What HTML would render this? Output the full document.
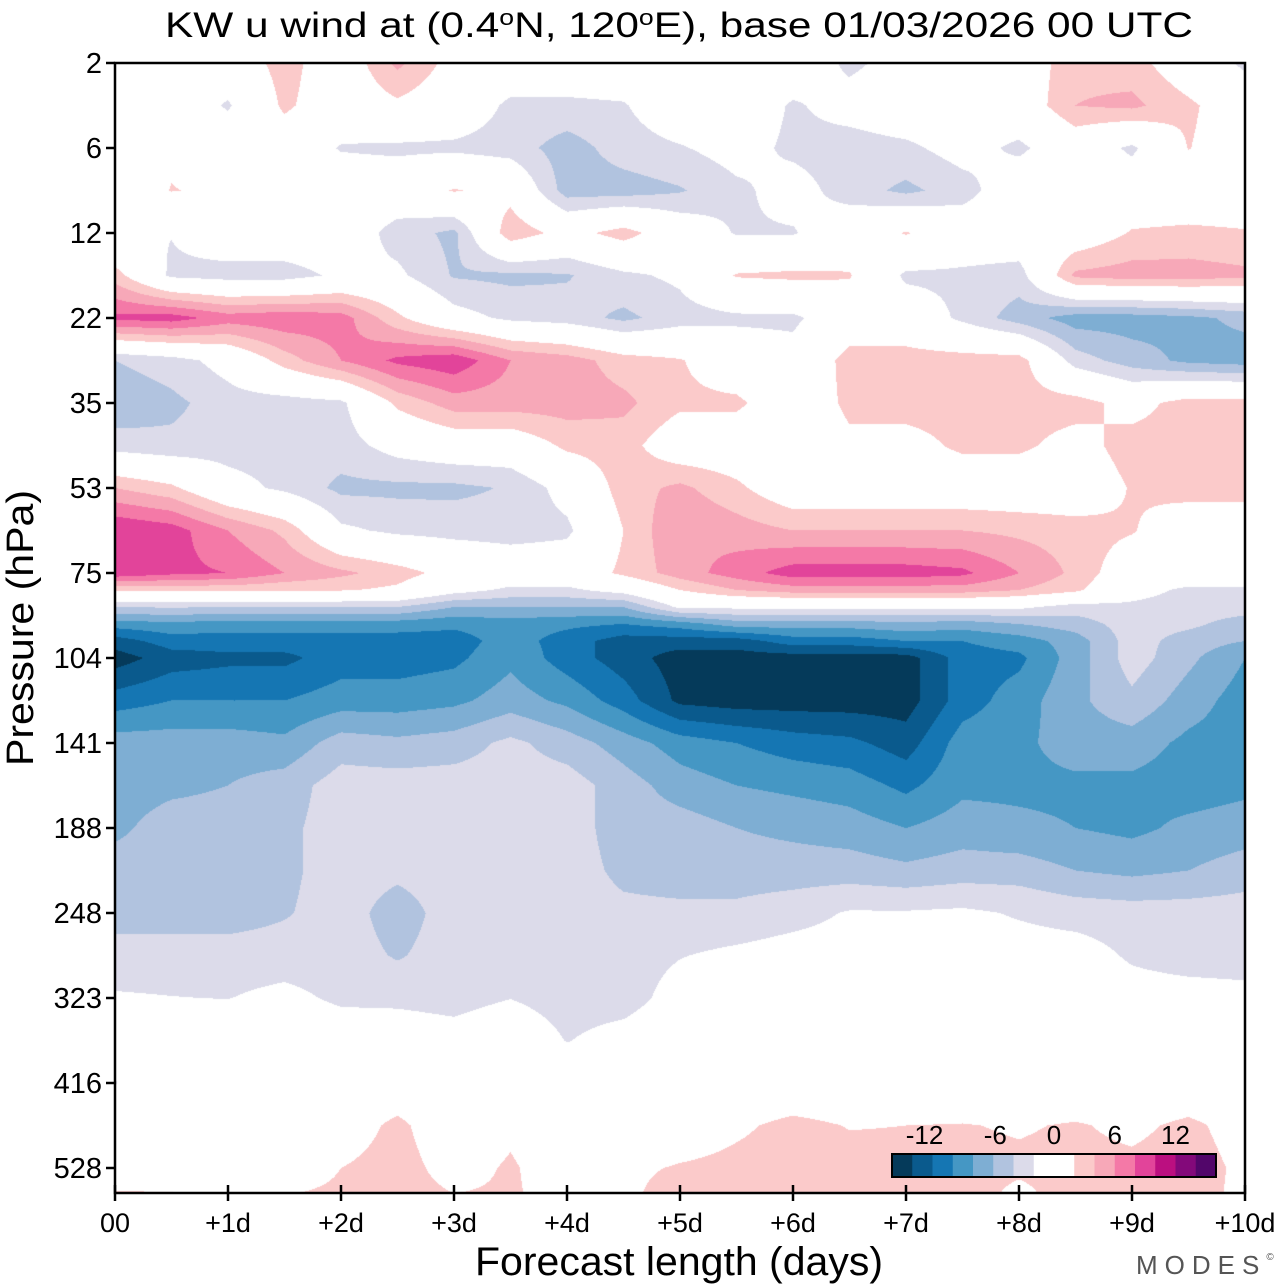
<!DOCTYPE html>
<html><head><meta charset="utf-8">
<style>
html,body{margin:0;padding:0;background:#fff;}
#wrap{position:relative;width:1280px;height:1286px;overflow:hidden;font-family:"Liberation Sans",sans-serif;}
#field{position:absolute;left:115px;top:63px;}
svg{position:absolute;left:0;top:0;font-family:"Liberation Sans",sans-serif;}
</style></head>
<body>
<div id="wrap">
<canvas id="field" width="1130" height="1130"></canvas>
<svg id="ov" width="1280" height="1286">
  <text x="679" y="37" font-size="35" text-anchor="middle" textLength="1028" lengthAdjust="spacingAndGlyphs">KW u wind at (0.4<tspan dy="-12" font-size="22">o</tspan><tspan dy="12">N, 120</tspan><tspan dy="-12" font-size="22">o</tspan><tspan dy="12">E),  base 01/03/2026  00 UTC</tspan></text>
  <g id="frame"></g>
  <g id="yaxis"></g>
  <g id="xaxis"></g>
  <text transform="translate(33,628) rotate(-90)" font-size="38" text-anchor="middle" textLength="276" lengthAdjust="spacingAndGlyphs">Pressure (hPa)</text>
  <text x="679" y="1275" font-size="40" text-anchor="middle" textLength="408" lengthAdjust="spacingAndGlyphs">Forecast length (days)</text>
  <g id="cbar"></g>
  <text x="1136" y="1274" font-size="26" fill="#555" letter-spacing="7">MODES<tspan font-size="10" dy="-14">©</tspan></text>
</svg>
</div>
<script>
// ---- data ----
const pressureTicks = ["2","6","12","22","35","53","75","104","141","188","248","323","416","528"];
const dayTicks = ["00","+1d","+2d","+3d","+4d","+5d","+6d","+7d","+8d","+9d","+10d"];
const colorbarLabels = ["-12","-6","0","6","12"];
const colorbarValues = [-12,-6,0,6,12];
const contourEdges = [-14,-12,-10,-8,-6,-4,-2,0,2,4,6,8,10,12,14];
const binColors = ["#053a5a","#0a5a8d","#1576b3","#4597c4","#7eaed3","#b1c3df","#dcdbea","#ffffff","#ffffff","#fbcaca","#f7a8b8","#f479a7","#e2449a","#bb0f80","#83097a","#52066a"];
// forecast time (days) of grid columns
const forecastDays = [0,0.5,1,1.5,2,2.5,3,3.5,4,4.5,5,5.5,6,6.5,7,7.5,8,8.5,9,9.5,10];
// level index (in pressure-tick units, 0 = 2 hPa ... 13 = 528 hPa)
const levelIndex = [0,0.5,1,1.5,2,2.5,3,3.5,4,4.5,5,5.5,6,6.2,6.4,6.6,6.8,7,7.5,8,8.5,9,9.5,10,10.5,11,11.5,12,12.5,13,13.3];
// u wind (m/s) rows, one per level, one value per forecast day column
const uWind = [
[0,0,0,3,0,4.5,1,0,0,0,0,0,0,-2.5,-1,0,0,3.5,3,0,-2.5],
[0,0,-2.3,2.5,0,1.5,0,-2.5,-2.5,-2.2,0,0,-2.3,-1,0,0,0,4,4.5,2.5,0],
[0,1.5,0,0,-2.2,-2.5,-2.5,-3,-5,-3,-2.2,-1,-2.5,-3,-2.5,-1,-2.5,0,-2.5,2.1,0],
[0,2.1,1.5,0,0,0,2.2,1,-5,-5,-4.2,-2.5,-1,-3,-4.5,-3,0,0,0,0,0],
[-1.9,-1.9,0,0,0,-3,-4.5,3.5,1,3,0,-2.2,-2.2,0,2.2,0,0,0,2.2,2.5,2.2],
[3,-2.5,-3,-3,-1.5,-1.5,-4.2,-4.5,-4.2,-2.5,-1.5,2.2,2.5,2.2,-2.5,-2.5,-3,4.5,5,5,4.5],
[8.5,9,7,7.5,7,2.5,-1,-2.5,-3,-4.5,-3,-2.5,-2.5,0,0,-2.5,-5,-7,-7,-6.5,-5.5],
[-4,-3,-1,3,6,8.5,9.5,6,5,3,2.2,0,-1,3,3,3,3,-3,-5,-6.5,-7],
[-5.5,-4.5,-3,-3,-2.5,2.5,5,5,5,4.5,2.5,2.5,0,2.5,3,3,3,3,1,3,3],
[-3,-3.5,-3,-3,-3,-1,0,0,2.5,3,0,0,0,1.5,1,2.5,2.5,1,3,3,3],
[4,2.5,-1,-2.5,-4.5,-4.5,-4.5,-3.8,-1,3,4.5,2.5,0,0,0,0,0,0,2.2,3,3],
[10,9,6,3.5,-1.5,-2.5,-2.8,-3,-2.5,2,6,5,4,4,4,4,3.5,3,2.2,0,0],
[9.5,8.5,8,6,4.5,3,1,0,0,2.5,5,7,9,9,9,8.5,6,3.5,0,0,0],
[2.5,2.5,2.5,2.2,2.2,1.5,-1,-2.5,-2.5,-1,2,4,5,5,5,5,4,2.5,-1,-2.5,-2.5],
[-4,-3.8,-4,-4,-4,-4,-6,-6,-6,-6,-1.5,-1.5,-1.5,-1.5,-1.5,-1.5,-1.5,-3,-2.5,-3,-3],
[-9,-8.5,-9,-9,-9,-9,-9.5,-9,-9.5,-10,-9,-7,-7,-7,-6.5,-7,-6,-5,-3,-3.5,-5],
[-13,-11,-11,-11,-11,-11,-11,-9,-11,-13,-13,-13,-11,-11,-10,-10,-9,-7,-3,-5,-6],
[-15,-13,-12.5,-12.5,-11,-11,-10.5,-8.5,-11,-13,-15,-15,-15,-15,-15,-11,-10.5,-7,-3,-5.5,-8],
[-11,-10,-10,-10,-9,-9,-8.5,-7,-8.5,-11,-14.5,-15,-15,-15,-15,-11,-9,-6.5,-4.5,-7,-9],
[-7,-7,-7,-7.5,-5,-5.5,-5,-3.5,-5,-7,-9,-10,-11,-11.5,-13,-9,-8.5,-7,-7,-8.5,-9],
[-7,-6.5,-6,-5,-3,-3,-3,-3,-3,-5,-7,-8,-8.5,-9,-10.5,-8.5,-8.5,-8.5,-8.5,-9,-8.5],
[-6.5,-5,-5,-4.5,-3,-3,-3,-3,-3,-5,-5,-6,-6.5,-7,-8,-7,-7.5,-8,-8.5,-7.5,-7],
[-5,-5,-5,-4.5,-3,-3.5,-3,-3,-3,-4.5,-5,-5,-5,-5,-5.5,-5,-5,-6,-6.5,-6,-5],
[-5,-5,-5,-4.2,-3,-5,-3,-3,-3,-3.5,-3.5,-3.5,-2.8,-1.8,-1.8,-1.6,-2.2,-2.8,-3,-3,-3],
[-3,-3,-3,-3,-3,-4.2,-3,-3,-3,-3,-2.1,-1.5,-1,-1,-1,-1,-1,-1,-2.3,-3,-3],
[-1.8,-1.95,-2.05,-1.4,-2.4,-2.5,-2.8,-2.05,-3,-3,-1,0,0,0,0,0,0,0,-1,-1,-1.3],
[-1,0,0,0,-0.5,-0.5,-1,0,-2.1,-1,0,0,0,0,0,0,0,0,0,0,0],
[-2.1,0,0,0,0,0,0,0,0,0,0,0,0,0,0,0,0,0,0,0,0],
[0,0,0,0,0.5,2.6,0,1.5,0,0,0.5,1.6,2.6,1.9,2,2.1,1.8,2.2,1.5,2.5,1],
[0.5,0,0,0.5,2,3,1,2.3,0.5,1.5,2.2,2.6,3,2.8,2.6,2.6,2.4,2.6,2.5,3,1.5],
[2.2,2.1,1.5,1.9,2.4,3,2,2.3,1,1.5,3,3,3,3,3,3,1.5,3,2.5,2.8,1.5]
];
// ---- axes ----
const PX0=115, PX1=1245, PY0=63, PY1=1193, TICKSTEP=85;
function xScale(d){return PX0 + (d/10)*(PX1-PX0);}
function yScale(u){return PY0 + u*TICKSTEP;}
function binIndex(v){let k=Math.floor((v+16)/2);return Math.max(0,Math.min(15,k));}
function hexRGB(h){return [parseInt(h.slice(1,3),16),parseInt(h.slice(3,5),16),parseInt(h.slice(5,7),16)];}
const rgbBins = binColors.map(hexRGB);

// ---- contour field ----
(function(){
  const cv=document.getElementById('field'), ctx=cv.getContext('2d');
  const W=cv.width,H=cv.height, img=ctx.createImageData(W,H), d=img.data;
  const colX=forecastDays.map(xScale), rowY=levelIndex.map(yScale);
  const rowIdx=new Array(H), rowT=new Array(H);
  for(let py=0;py<H;py++){
    const y=PY0+py+0.5; let i=0;
    while(i<rowY.length-2 && rowY[i+1]<y) i++;
    let t=(y-rowY[i])/(rowY[i+1]-rowY[i]); rowIdx[py]=i; rowT[py]=Math.max(0,Math.min(1,t));
  }
  for(let px=0;px<W;px++){
    const x=PX0+px+0.5; let j=0;
    while(j<colX.length-2 && colX[j+1]<x) j++;
    const s=Math.max(0,Math.min(1,(x-colX[j])/(colX[j+1]-colX[j])));
    for(let py=0;py<H;py++){
      const i=rowIdx[py], t=rowT[py];
      const a=uWind[i][j], b=uWind[i][j+1], c=uWind[i+1][j], e=uWind[i+1][j+1];
      const v=(a*(1-s)+b*s)*(1-t)+(c*(1-s)+e*s)*t;
      const col=rgbBins[binIndex(v)], o=(py*W+px)*4;
      d[o]=col[0];d[o+1]=col[1];d[o+2]=col[2];d[o+3]=255;
    }
  }
  ctx.putImageData(img,0,0);
})();

// ---- svg axes ----
const NS='http://www.w3.org/2000/svg';
function mk(tag,attrs,parent){const el=document.createElementNS(NS,tag);for(const k in attrs)el.setAttribute(k,attrs[k]);parent.appendChild(el);return el;}
const frame=document.getElementById('frame');
const fr=mk('rect',{x:PX0,y:PY0,width:PX1-PX0,height:PY1-PY0,fill:'none',stroke:'#000','stroke-width':2.5},frame);


const ya=document.getElementById('yaxis');
pressureTicks.forEach((lab,i)=>{
  const y=yScale(i);
  const tk=mk('line',{x1:PX0-9,x2:PX0,y1:y,y2:y,stroke:'#000','stroke-width':2.5},ya);
  
  
  const t=mk('text',{x:PX0-13,y:y+10,'font-size':29,'text-anchor':'end'},ya);
  t.textContent=lab;
  
  
});
const xa=document.getElementById('xaxis');
dayTicks.forEach((lab,i)=>{
  const x=xScale(i);
  const tk=mk('line',{x1:x,x2:x,y1:PY1-8,y2:PY1+8,stroke:'#000','stroke-width':2.5},xa);
  
  
  const t=mk('text',{x:x,y:1232,'font-size':27,'text-anchor':'middle'},xa);
  t.textContent=lab;
  
  
});
// ---- colorbar ----
const cb=document.getElementById('cbar');
const CB0=892, CBW=324/16, CBY=1154, CBH=23;
binColors.forEach((c,k)=>{
  const r=mk('rect',{x:CB0+k*CBW,y:CBY,width:CBW+0.5,height:CBH,fill:c},cb);
  
  
});
const cbb=mk('rect',{x:CB0,y:CBY,width:324,height:CBH,fill:'none',stroke:'#000','stroke-width':2},cb);


function cbScale(v){return CB0+(v+16)/2*CBW;}
colorbarLabels.forEach((lab,i)=>{
  const t=mk('text',{x:cbScale(colorbarValues[i])-(i===0?8:(i===1?-2:0)),y:1144,'font-size':26,'text-anchor':'middle'},cb);
  t.textContent=lab;
  
  
});
</script>
</body></html>
